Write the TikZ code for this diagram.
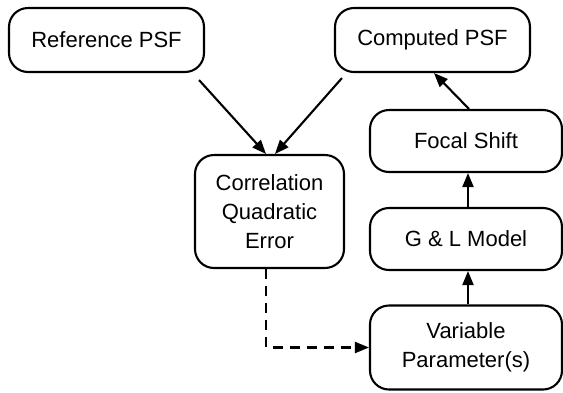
\documentclass[tikz,border=0pt]{standalone}
\usepackage{fontspec}
\setmainfont{Liberation Sans}
\usetikzlibrary{arrows.meta}
\begin{document}
\begin{tikzpicture}[x=1pt,y=-1pt,
  box/.style={draw,line width=2.1pt,rounded corners=19pt,align=center,inner sep=0pt,
    font=\fontsize{22}{29}\selectfont},
  arr/.style={line width=2.1pt,-{Triangle[length=14pt,width=11pt]}},
  dsh/.style={arr,dash pattern=on 10pt off 7pt}]
\useasboundingbox (0,0) rectangle (563,392);
\node[box,minimum width=195pt,minimum height=64pt] (ref) at (106.5,40) {Reference PSF};
\node[box,minimum width=195pt,minimum height=64pt] (comp) at (432.5,40) {Computed PSF};
\node[box,minimum width=192pt,minimum height=62pt] (focal) at (466,141) {Focal Shift};
\node[box,minimum width=192pt,minimum height=62pt] (gl) at (466,239) {G \& L Model};
\node[box,minimum width=192pt,minimum height=84pt] (var) at (466,347.5) {Variable\\Parameter(s)};
\node[box,minimum width=149pt,minimum height=113pt] (corr) at (269.5,211.5) {Correlation\\Quadratic\\Error};
\draw[arr] ([xshift=-6pt,yshift=-7pt]ref.south east) -- ([xshift=-3.5pt]corr.north);
\draw[arr] ([xshift=8pt,yshift=-5pt]comp.south west) -- ([xshift=5.5pt]corr.north);
\draw[arr] ([xshift=3pt]focal.north) -- ([xshift=1.5pt]comp.south);
\draw[arr] ([xshift=2pt]gl.north) -- ([xshift=2pt]focal.south);
\draw[arr] ([xshift=2pt]var.north) -- ([xshift=2pt]gl.south);
\draw[dsh] ([xshift=-3.5pt]corr.south) |- (var.west);
\end{tikzpicture}
\end{document}
